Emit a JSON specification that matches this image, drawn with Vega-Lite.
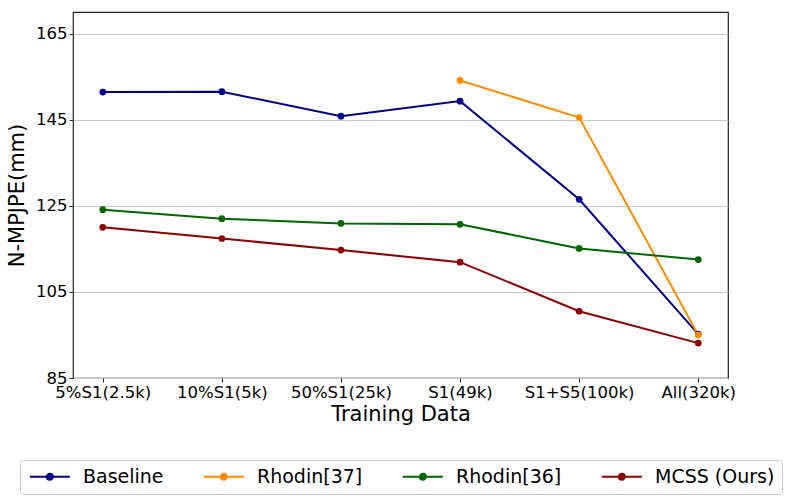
{
  "$schema": "https://vega.github.io/schema/vega-lite/v6.json",
  "width": 655,
  "height": 366,
  "autosize": {"type": "none"},
  "padding": {"left": 73, "top": 12, "right": 61, "bottom": 124},
  "background": "white",
  "config": {
    "font": "DejaVu Sans",
    "view": {"stroke": "#222222", "strokeWidth": 1.2},
    "axis": {
      "domain": false,
      "labelFont": "DejaVu Sans",
      "titleFont": "DejaVu Sans",
      "labelColor": "black",
      "titleColor": "black",
      "labelFontSize": 16.5,
      "titleFontSize": 21,
      "titleFontWeight": "normal",
      "tickColor": "#222222",
      "tickSize": 4,
      "labelPadding": 2
    }
  },
  "data": {
    "values": [
      {"data": "5%S1(2.5k)", "method": "Baseline", "mpjpe": 151.4, "i": 0},
      {"data": "10%S1(5k)", "method": "Baseline", "mpjpe": 151.5, "i": 1},
      {"data": "50%S1(25k)", "method": "Baseline", "mpjpe": 145.8, "i": 2},
      {"data": "S1(49k)", "method": "Baseline", "mpjpe": 149.3, "i": 3},
      {"data": "S1+S5(100k)", "method": "Baseline", "mpjpe": 126.5, "i": 4},
      {"data": "All(320k)", "method": "Baseline", "mpjpe": 95.2, "i": 5},
      {"data": "S1(49k)", "method": "Rhodin[37]", "mpjpe": 154.1, "i": 3},
      {"data": "S1+S5(100k)", "method": "Rhodin[37]", "mpjpe": 145.5, "i": 4},
      {"data": "All(320k)", "method": "Rhodin[37]", "mpjpe": 95.0, "i": 5},
      {"data": "5%S1(2.5k)", "method": "Rhodin[36]", "mpjpe": 124.1, "i": 0},
      {"data": "10%S1(5k)", "method": "Rhodin[36]", "mpjpe": 122.0, "i": 1},
      {"data": "50%S1(25k)", "method": "Rhodin[36]", "mpjpe": 120.9, "i": 2},
      {"data": "S1(49k)", "method": "Rhodin[36]", "mpjpe": 120.7, "i": 3},
      {"data": "S1+S5(100k)", "method": "Rhodin[36]", "mpjpe": 115.1, "i": 4},
      {"data": "All(320k)", "method": "Rhodin[36]", "mpjpe": 112.5, "i": 5},
      {"data": "5%S1(2.5k)", "method": "MCSS (Ours)", "mpjpe": 120.0, "i": 0},
      {"data": "10%S1(5k)", "method": "MCSS (Ours)", "mpjpe": 117.4, "i": 1},
      {"data": "50%S1(25k)", "method": "MCSS (Ours)", "mpjpe": 114.7, "i": 2},
      {"data": "S1(49k)", "method": "MCSS (Ours)", "mpjpe": 111.9, "i": 3},
      {"data": "S1+S5(100k)", "method": "MCSS (Ours)", "mpjpe": 100.5, "i": 4},
      {"data": "All(320k)", "method": "MCSS (Ours)", "mpjpe": 93.1, "i": 5}
    ]
  },
  "encoding": {
    "x": {
      "field": "data",
      "type": "ordinal",
      "sort": ["5%S1(2.5k)", "10%S1(5k)", "50%S1(25k)", "S1(49k)", "S1+S5(100k)", "All(320k)"],
      "scale": {"type": "point", "padding": 0.25},
      "title": "Training Data",
      "axis": {"labelAngle": 0, "grid": false, "titlePadding": 3}
    },
    "y": {
      "field": "mpjpe",
      "type": "quantitative",
      "scale": {"domain": [85, 170], "nice": false, "zero": false},
      "title": "N-MPJPE(mm)",
      "axis": {
        "values": [85, 105, 125, 145, 165],
        "grid": true,
        "gridColor": "#c8c8c8",
        "gridWidth": 1.2,
        "titlePadding": 8
      }
    },
    "color": {
      "field": "method",
      "type": "nominal",
      "scale": {
        "domain": ["Baseline", "Rhodin[37]", "Rhodin[36]", "MCSS (Ours)"],
        "range": ["#00008b", "#ff8c00", "#006400", "#8b0000"]
      },
      "legend": {
        "title": null,
        "orient": "none",
        "direction": "horizontal",
        "columns": 4,
        "legendX": -53,
        "legendY": 448,
        "labelFont": "DejaVu Sans",
        "labelFontSize": 19,
        "labelColor": "black",
        "labelOffset": 37,
        "columnPadding": 35,
        "padding": 7,
        "strokeColor": "#cccccc",
        "fillColor": "white",
        "cornerRadius": 3,
        "symbolType": "M-1,0H5M2.45,0A0.45,0.45,0,1,1,1.55,0A0.45,0.45,0,1,1,2.45,0Z",
        "symbolSize": 178,
        "symbolStrokeWidth": 2,
        "encode": {
          "symbols": {
            "update": {
              "fill": {"signal": "scale('color', datum.value)"},
              "stroke": {"signal": "scale('color', datum.value)"},
              "opacity": {"value": 1}
            }
          }
        }
      }
    },
    "order": {"field": "i", "type": "quantitative"}
  },
  "layer": [
    {"mark": {"type": "line", "strokeWidth": 2}},
    {"mark": {"type": "point", "filled": true, "size": 45, "opacity": 1}}
  ]
}
